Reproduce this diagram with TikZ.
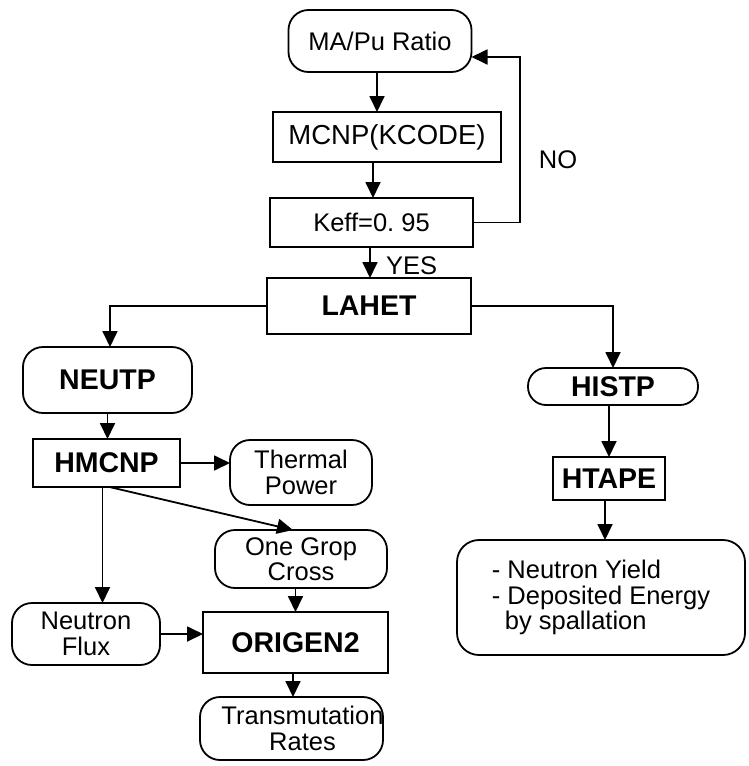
\documentclass[tikz,border=0pt]{standalone}
\usepackage{fontspec}
\setmainfont{Liberation Sans}
\usetikzlibrary{arrows.meta}
\begin{document}
\begin{tikzpicture}[x=1pt,y=-1pt,
  every node/.style={inner sep=0pt,outer sep=0pt},
  reg/.style={font=\fontsize{25.5}{25.5}\selectfont,align=center},
  bld/.style={font=\fontsize{28.5}{28.5}\selectfont\bfseries,align=center},
  rbox/.style={draw,line width=1.8pt,rounded corners=20pt},
  sbox/.style={draw,line width=1.8pt},
  arr/.style={line width=1.8pt,-{Triangle[length=16pt,width=15pt]}},
  ln/.style={line width=1.8pt}]
\useasboundingbox (0,0) rectangle (748,766);

% nodes
\node[rbox,reg,minimum width=183pt,minimum height=62pt] (ma) at (380,41) {MA/Pu Ratio};
\node[sbox,reg,minimum width=228pt,minimum height=50pt,font=\fontsize{27.5}{27.5}\selectfont] (mcnp) at (387,137) {MCNP(KCODE)};
\node[sbox,reg,minimum width=203pt,minimum height=49pt] (keff) at (371.5,222.5) {Keff=0.\ 95};
\node[sbox,bld,minimum width=204pt,minimum height=56pt] (lahet) at (369,306) {LAHET};
\node[reg] (no) at (558,160) {NO};
\node[reg,anchor=west] (yes) at (386,266) {YES};

\node[rbox,bld,minimum width=169pt,minimum height=66pt] (neutp) at (107.5,380) {NEUTP};
\node[sbox,bld,minimum width=147pt,minimum height=48pt] (hmcnp) at (106.5,463) {HMCNP};
\node[rbox,reg,minimum width=142pt,minimum height=65pt] (thermal) at (301,472.5) {Thermal\\Power};
\node[rbox,reg,minimum width=172pt,minimum height=58pt] (onegrop) at (301,559) {One Grop\\Cross};
\node[rbox,reg,minimum width=148pt,minimum height=62pt] (flux) at (86,634) {Neutron\\Flux};
\node[sbox,bld,minimum width=185pt,minimum height=61pt] (origen) at (295.5,642.5) {ORIGEN2};
\node[rbox,minimum width=183pt,minimum height=63pt] (trans) at (291.5,728.5) {};
\node[reg] (transtext) at ([xshift=11pt]trans.center) {Transmutation\\Rates};

\node[rbox,bld,rounded corners=18pt,minimum width=170pt,minimum height=37pt] (histp) at (613,386.5) {HISTP};
\node[sbox,bld,minimum width=112pt,minimum height=43pt] (htape) at (609,478.5) {HTAPE};
\node[rbox,reg,rounded corners=22pt,align=left,minimum width=288pt,minimum height=115pt] (result) at (601,597.5)
  {- Neutron Yield\\- Deposited Energy\\\hspace*{13pt}by spallation};

% connectors
\coordinate (loop) at (520,57);
\draw[arr] ([xshift=-3pt]ma.south) -- ([xshift=-3pt]ma.south |- mcnp.north);
\draw[arr] ([xshift=-14pt]mcnp.south) -- ([xshift=-14pt]mcnp.south |- keff.north);
\draw[arr] ([xshift=-1.5pt]keff.south) -- ([xshift=-1.5pt]keff.south |- lahet.north);
\draw[arr] (keff.east) -| (loop) -- (ma.east |- loop);

\draw[arr] (lahet.west) -| ([xshift=2.5pt]neutp.north);
\draw[arr] (lahet.east) -| (histp.north);

\draw[arr] (neutp.south) -- (neutp.south |- hmcnp.north);
\draw[arr] (hmcnp.east) -- (thermal.west |- hmcnp.east);
\draw[arr] ([xshift=-4pt]hmcnp.south) -- ([xshift=-4pt]hmcnp.south |- flux.north);
\draw[arr] ([xshift=3pt]hmcnp.south) -- ([xshift=-8pt]onegrop.north);
\draw[arr] (origen.north |- onegrop.south) -- (origen.north);
\draw[arr] (flux.east) -- (origen.west |- flux.east);
\draw[arr] ([xshift=-2.5pt]origen.south) -- ([xshift=-2.5pt]origen.south |- trans.north);

\draw[arr] (htape.north |- histp.south) -- (htape.north);
\draw[arr] ([xshift=-4pt]htape.south) -- ([xshift=-4pt]htape.south |- result.north);
\end{tikzpicture}
\end{document}
